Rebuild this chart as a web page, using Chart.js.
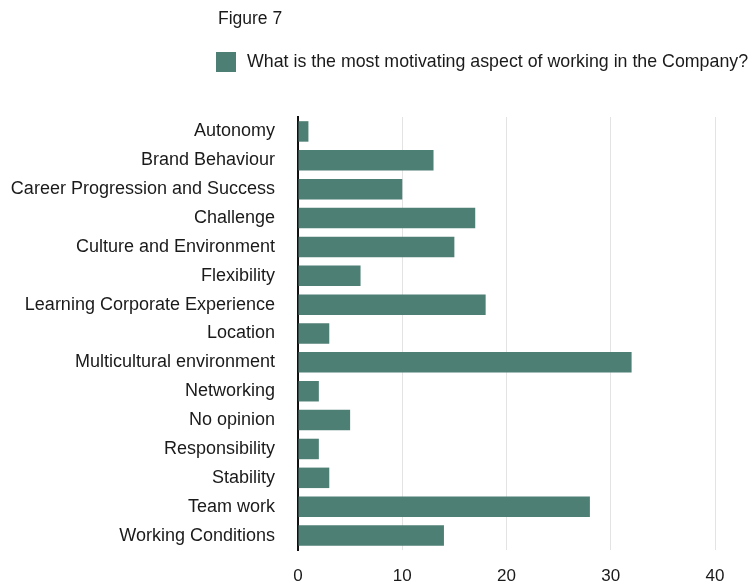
<!DOCTYPE html>
<html>
<head>
<meta charset="utf-8">
<script src="https://cdn.jsdelivr.net/npm/chart.js@4"></script>
<style>
	html, body { margin:0; padding:0; background:#fff; }
	#wadah { position:relative; width:752px; height:588px; }
</style>
</head>
<body>
<div id="wadah"><canvas id="c" width="752" height="588"></canvas></div>
<script>
const judul = 'Figure 7'
const labelSeri = 'What is the most motivating aspect of working in the Company?'
const kategori = ['Autonomy', 'Brand Behaviour', 'Career Progression and Success', 'Challenge', 'Culture and Environment', 'Flexibility', 'Learning Corporate Experience', 'Location', 'Multicultural environment', 'Networking', 'No opinion', 'Responsibility', 'Stability', 'Team work', 'Working Conditions']
const nilai = [1, 13, 10, 17, 15, 6, 18, 3, 32, 2, 5, 2, 3, 28, 14]
const tickX = [0, 10, 20, 30, 40]

const warna = '#4e7f74'
const huruf = '"Liberation Sans", Arial, sans-serif'

Chart.defaults.font.family = huruf
Chart.defaults.color = '#1a1a1a'

// judul + legenda di atas area plot
const legendaAtas = {
	id: 'legendaAtas',
	afterDraw: c => {
		const x = c.ctx, d = c.data.datasets[0]
		x.save()
		x.textBaseline = 'middle'
		x.fillStyle = '#1a1a1a'
		x.font = '17.5px ' + huruf
		x.fillText(judul, 218, 19)
		x.fillStyle = d.backgroundColor
		x.fillRect(216, 52, 20, 20)
		x.fillStyle = '#1a1a1a'
		x.font = '17.8px ' + huruf
		x.fillText(d.label, 247, 62)
		x.restore()
	}
}

new Chart(document.getElementById('c'), {
	type: 'bar',
	data: {
		labels: kategori,
		datasets: [{
			label: labelSeri,
			data: nilai,
			backgroundColor: warna,
			borderWidth: 0,
			barPercentage: 0.71,
			categoryPercentage: 1,
		}]
	},
	options: {
		indexAxis: 'y',
		responsive: false,
		animation: false,
		layout: { padding: { top: 117, right: 37, bottom: 0, left: 0 } },
		plugins: {
			legend: { display: false },
			tooltip: { enabled: false },
		},
		scales: {
			x: {
				min: tickX[0],
				max: tickX[tickX.length - 1],
				afterBuildTicks: s => { s.ticks = tickX.map(v => ({ value: v })) },
				afterFit: s => { s.height = 38 },
				grid: { color: '#e3e3e3', drawTicks: false },
				border: { display: false },
				ticks: { padding: 16, font: { size: 17 }, color: '#1a1a1a' },
			},
			y: {
				afterFit: s => { s.width = 298 },
				grid: { display: false, drawTicks: false },
				border: { color: '#111', width: 2 },
				ticks: { padding: 23, font: { size: 18 }, color: '#1a1a1a', autoSkip: false },
			}
		}
	},
	plugins: [legendaAtas]
})
</script>
</body>
</html>
